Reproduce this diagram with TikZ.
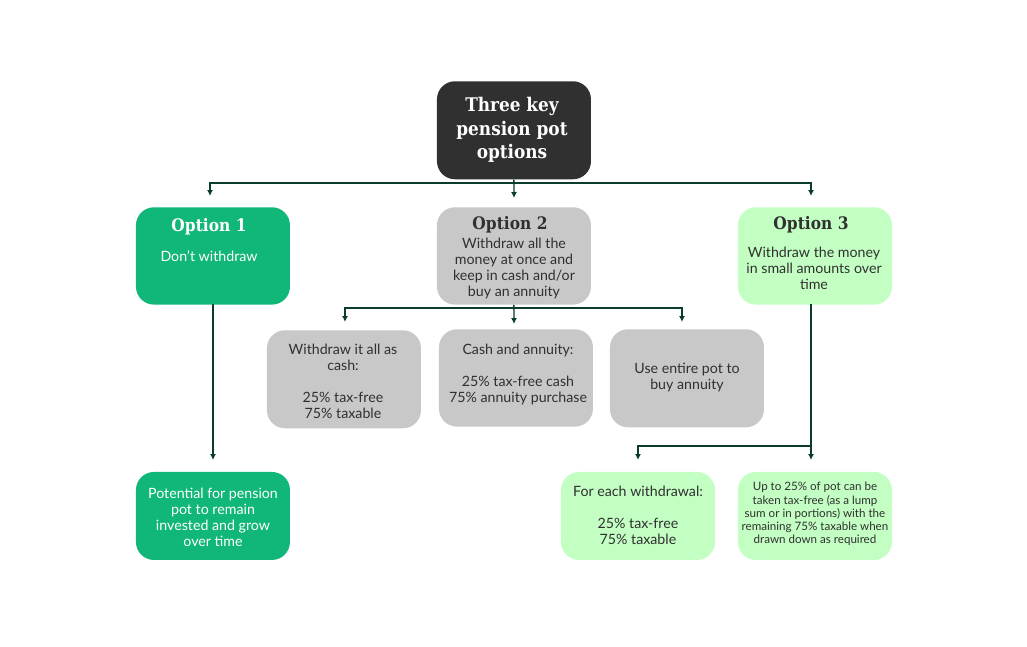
\documentclass[tikz,border=0pt]{standalone}
\usepackage{fontspec}
\setmainfont{Lato}
\newfontfamily\headfont{DejaVu Serif Condensed}
\usetikzlibrary{arrows.meta}
\definecolor{inkdark}{HTML}{303030}
\definecolor{optgreen}{HTML}{10B779}
\definecolor{optgray}{HTML}{C8C8C8}
\definecolor{optlight}{HTML}{C3FFC3}
\definecolor{wire}{HTML}{0B3D2E}
\tikzset{
  boxa/.style={draw=none,rounded corners=13.5pt,inner sep=0pt,minimum width=115.5pt,anchor=north west},
  body/.style={align=center,inner sep=0pt,text=inkdark,font=\fontsize{10.65}{12}\selectfont},
  small/.style={align=center,inner sep=0pt,text=inkdark,font=\fontsize{8.7}{9.9}\selectfont},
  head/.style={align=center,inner sep=0pt,text=inkdark,font=\headfont\bfseries\fontsize{12.9}{14}\selectfont},
  title/.style={align=center,inner sep=0pt,text=white,font=\headfont\bfseries\fontsize{14.1}{17.6}\selectfont},
  conn/.style={draw=wire,line width=1.1pt,-{Latex[length=4.5pt,width=4.5pt]}},
  plain/.style={draw=wire,line width=1.1pt}
}
\begin{document}
\begin{tikzpicture}[x=0.75pt,y=-0.75pt]
\useasboundingbox (0,0) rectangle (1027,646);
\fill[white] (0,0) rectangle (1027,646);
% boxes
\node[boxa,fill=inkdark,minimum height=73.5pt] (top) at (436.7,81) {};
\node[boxa,fill=optgreen,minimum height=73pt] (o1) at (135.7,207) {};
\node[boxa,fill=optgray,minimum height=73pt] (o2) at (436.7,207) {};
\node[boxa,fill=optlight,minimum height=73pt] (o3) at (737.7,207) {};
\node[boxa,fill=optgray,minimum height=73.5pt] (w1) at (266.7,330) {};
\node[boxa,fill=optgray,minimum height=73pt] (w2) at (438.7,329) {};
\node[boxa,fill=optgray,minimum height=73.5pt] (w3) at (609.7,329) {};
\node[boxa,fill=optgreen,minimum height=66pt] (b1) at (135.7,471.7) {};
\node[boxa,fill=optlight,minimum height=66pt] (b2) at (560.7,471.7) {};
\node[boxa,fill=optlight,minimum height=66pt] (b3) at (737.7,471.7) {};
% texts
\node[title] (ttop) at (512,130) {Three key\\pension pot\\options};
\node[head,text=white] (h1) at (209,227) {Option 1};
\node[body,text=white] (t1) at (209,256) {Don’t withdraw};
\node[head] (h2) at (510,225) {Option 2};
\node[body] (t2) at (514,268) {Withdraw all the\\money at once and\\keep in cash and/or\\buy an annuity};
\node[head] (h3) at (811,225) {Option 3};
\node[body] (t3) at (814,268) {Withdraw the money\\in small amounts over\\time};
\node[body] (tw1) at (343,381) {Withdraw it all as\\cash:\\[12pt]25\% tax-free\\75\% taxable};
\node[body] (tw2) at (518,374) {Cash and annuity:\\[12pt]25\% tax-free cash\\75\% annuity purchase};
\node[body] (tw3) at (687,378) {Use entire pot to\\buy annuity};
\node[body,text=white] (tb1) at (213,517) {Potential for pension\\pot to remain\\invested and grow\\over time};
\node[body] (tb2) at (638,515) {For each withdrawal:\\[12pt]25\% tax-free\\75\% taxable};
\node[small] (tb3) at (815,514) {Up to 25\% of pot can be\\taken tax-free (as a lump\\sum or in portions) with the\\remaining 75\% taxable when\\drawn down as required};
% connector points
\coordinate (busT) at (514,183);
\coordinate (aL) at (210,196);
\coordinate (aM) at (514,198);
\coordinate (aR) at (811,196);
\coordinate (busO) at (514,308);
\coordinate (cL) at (345,322);
\coordinate (cM) at (514,324);
\coordinate (cR) at (682,322);
\coordinate (s1) at (213,304);
\coordinate (e1) at (213,460);
\coordinate (s3) at (811,304);
\coordinate (e3) at (811,460);
\coordinate (j3) at (811,446);
\coordinate (e2) at (638,460);
% connectors
\draw[conn] (busT) -| (aL);
\draw[conn] (busT) -| (aR);
\draw[conn] (top.south) -- (aM);
\draw[conn] (busO) -| (cL);
\draw[conn] (busO) -| (cR);
\draw[conn] (o2.south) -- (cM);
\draw[conn] (s1) -- (e1);
\draw[conn] (s3) -- (e3);
\draw[conn] (j3) -| (e2);
\end{tikzpicture}
\end{document}
